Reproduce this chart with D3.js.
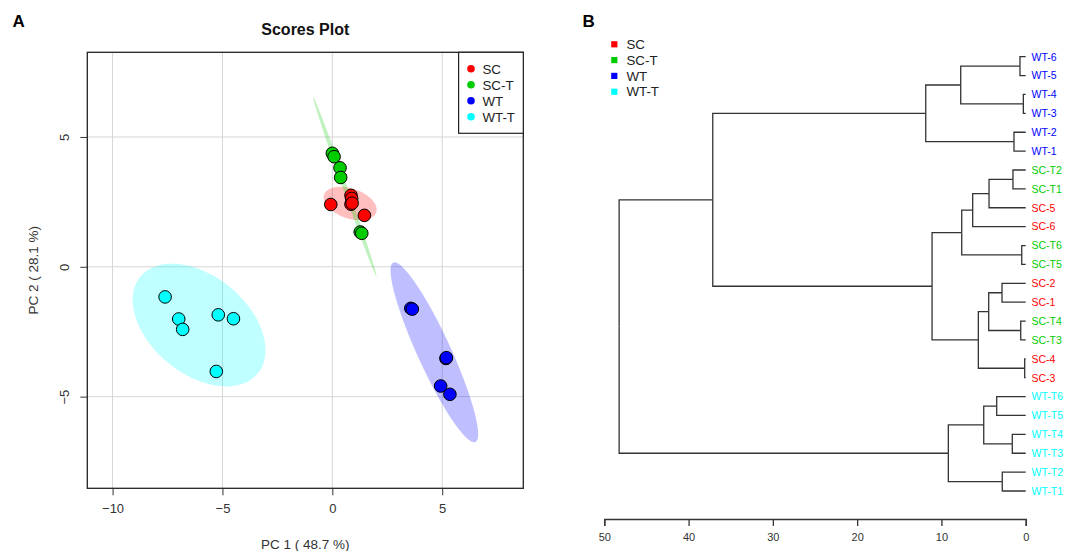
<!DOCTYPE html>
<html>
<head>
<meta charset="utf-8">
<script src="https://cdn.jsdelivr.net/npm/d3@7"></script>
<style>
  body { margin: 0; background: #fff; }
  svg { font-family: "Liberation Sans", Arial, sans-serif; }
</style>
</head>
<body>
<svg id="board"></svg>
<script>
// ---- data ----
let groups = ['SC', 'SC-T', 'WT', 'WT-T']
let groupColors = ['#ff0000', '#00cd00', '#0000ff', '#00ffff']

let sampleGroup = ['SC', 'SC', 'SC', 'SC', 'SC', 'SC',
                   'SC-T', 'SC-T', 'SC-T', 'SC-T', 'SC-T', 'SC-T',
                   'WT', 'WT', 'WT', 'WT', 'WT', 'WT',
                   'WT-T', 'WT-T', 'WT-T', 'WT-T', 'WT-T', 'WT-T']
let pc1 = [-0.07, 0.85, 0.88, 0.85, 1.46, 0.90,
           0.00, 0.08, 0.35, 0.38, 1.27, 1.34,
           3.57, 3.64, 5.17, 4.93, 5.35, 5.19,
           -7.61, -6.99, -6.81, -5.19, -4.50, -5.28]
let pc2 = [2.40, 2.75, 2.63, 2.41, 1.98, 2.45,
           4.37, 4.24, 3.81, 3.44, 1.34, 1.29,
           -1.60, -1.63, -3.53, -4.59, -4.91, -3.50,
           -1.16, -2.01, -2.41, -1.85, -2.00, -4.03]

let xTicks = [-10, -5, 0, 5]
let yTicks = [-5, 0, 5]
let xLabel = 'PC 1 ( 48.7 %)'
let yLabel = 'PC 2 ( 28.1 %)'

// dendrogram: leaf order top to bottom, and merges [id, left, right, height]
let leafOrder = ['WT-6', 'WT-5', 'WT-4', 'WT-3', 'WT-2', 'WT-1',
                 'SC-T2', 'SC-T1', 'SC-5', 'SC-6', 'SC-T6', 'SC-T5',
                 'SC-2', 'SC-1', 'SC-T4', 'SC-T3', 'SC-4', 'SC-3',
                 'WT-T6', 'WT-T5', 'WT-T4', 'WT-T3', 'WT-T2', 'WT-T1']
let leafGroup = ['WT', 'WT', 'WT', 'WT', 'WT', 'WT',
                 'SC-T', 'SC-T', 'SC', 'SC', 'SC-T', 'SC-T',
                 'SC', 'SC', 'SC-T', 'SC-T', 'SC', 'SC',
                 'WT-T', 'WT-T', 'WT-T', 'WT-T', 'WT-T', 'WT-T']
let merges = [
  ['m1', 'WT-6', 'WT-5', 0.68],
  ['m2', 'WT-4', 'WT-3', 0.28],
  ['m3', 'm1', 'm2', 7.71],
  ['m4', 'WT-2', 'WT-1', 1.39],
  ['m5', 'm3', 'm4', 11.86],
  ['m6', 'SC-T2', 'SC-T1', 1.51],
  ['m7', 'm6', 'SC-5', 4.35],
  ['m8', 'm7', 'SC-6', 6.29],
  ['m9', 'SC-T6', 'SC-T5', 0.47],
  ['m10', 'm8', 'm9', 7.59],
  ['m11', 'SC-2', 'SC-1', 2.81],
  ['m12', 'SC-T4', 'SC-T3', 0.59],
  ['m13', 'm11', 'm12', 4.39],
  ['m14', 'SC-4', 'SC-3', 0.12],
  ['m15', 'm13', 'm14', 5.62],
  ['m16', 'm10', 'm15', 11.11],
  ['m17', 'm5', 'm16', 37.13],
  ['m18', 'WT-T6', 'WT-T5', 3.44],
  ['m19', 'WT-T4', 'WT-T3', 1.59],
  ['m20', 'm18', 'm19', 4.98],
  ['m21', 'WT-T2', 'WT-T1', 2.78],
  ['m22', 'm20', 'm21', 9.18],
  ['m23', 'm17', 'm22', 48.24]
]
let heightTicks = [50, 40, 30, 20, 10, 0]

// ---- layout ----
let width = 1065
let height = 551

let board = d3.select('#board')
              .attr('width', width)
              .attr('height', height)

let colorOf = d3.scaleOrdinal().domain(groups).range(groupColors)

let xScale
let yScale
let hScale
let leafScale

let makeScales = function() {
    xScale = d3.scaleLinear()
               .domain([-11.15, 8.69])
               .range([87.3, 523.3])
    yScale = d3.scaleLinear()
               .domain([-8.53, 8.26])
               .range([488.3, 52.3])
    hScale = d3.scaleLinear()
               .domain([50, 0])
               .range([604.3, 1025.7])
    leafScale = d3.scalePoint()
               .domain(leafOrder)
               .range([56.7, 491])
}

// 95% normal ellipse from the points of one group
let ellipseOf = function(g) {
    let idx = d3.range(pc1.length).filter(i => sampleGroup[i] === g)
    let xs = idx.map(i => pc1[i])
    let ys = idx.map(i => pc2[i])
    let n = xs.length
    let mx = d3.mean(xs), my = d3.mean(ys)
    let sxx = d3.sum(xs, x => (x - mx) * (x - mx)) / (n - 1)
    let syy = d3.sum(ys, y => (y - my) * (y - my)) / (n - 1)
    let sxy = d3.sum(idx, (i, k) => (xs[k] - mx) * (ys[k] - my)) / (n - 1)
    let t = Math.sqrt(5.991)
    let a = Math.sqrt(sxx)
    let b = sxy / a
    let c = Math.sqrt(Math.max(syy - b * b, 0))
    return d3.range(0, 100).map(k => {
        let th = k / 100 * 2 * Math.PI
        let u = Math.cos(th), v = Math.sin(th)
        return [mx + t * a * u, my + t * (b * u + c * v)]
    })
}

let makeScores = function() {
    let g = board.append('g').attr('id', 'scores')

    // grid
    g.selectAll('.vgrid').data(xTicks).enter().append('line')
        .attr('x1', d => xScale(d)).attr('x2', d => xScale(d))
        .attr('y1', 52.3).attr('y2', 488.3)
        .attr('stroke', '#d6d6d6').attr('stroke-width', 1)
    g.selectAll('.hgrid').data(yTicks).enter().append('line')
        .attr('y1', d => yScale(d)).attr('y2', d => yScale(d))
        .attr('x1', 87.3).attr('x2', 523.3)
        .attr('stroke', '#d6d6d6').attr('stroke-width', 1)

    // ellipses
    let line = d3.line()
                 .x(d => xScale(d[0]))
                 .y(d => yScale(d[1]))
                 .curve(d3.curveLinearClosed)
    g.selectAll('.ell').data(groups).enter().append('path')
        .attr('d', d => line(ellipseOf(d)))
        .attr('fill', d => colorOf(d))
        .attr('fill-opacity', 0.25)
        .attr('stroke', 'none')

    // points
    g.selectAll('circle.pt').data(d3.range(pc1.length)).enter().append('circle')
        .attr('class', 'pt')
        .attr('cx', i => xScale(pc1[i]))
        .attr('cy', i => yScale(pc2[i]))
        .attr('r', 6.3)
        .attr('fill', i => colorOf(sampleGroup[i]))
        .attr('stroke', '#000')
        .attr('stroke-width', 1)

    // box
    g.append('rect')
        .attr('x', 87.3).attr('y', 52.3)
        .attr('width', 436).attr('height', 436)
        .attr('fill', 'none').attr('stroke', '#222').attr('stroke-width', 1.3)

    // axes
    let xAxis = d3.axisBottom(xScale).tickValues(xTicks).tickSize(7).tickPadding(8)
                  .tickFormat(d3.format('d'))
    let xg = g.append('g').attr('transform', 'translate(0,488.3)').call(xAxis)
    xg.select('.domain').remove()
    xg.selectAll('text').attr('font-size', 13).attr('fill', '#333')
      .attr('font-family', '"Liberation Sans", Arial, sans-serif')
    xg.selectAll('line').attr('stroke', '#333')

    let yAxis = d3.axisLeft(yScale).tickValues(yTicks).tickSize(7).tickFormat(d3.format('d'))
    let yg = g.append('g').attr('transform', 'translate(87.3,0)').call(yAxis)
    yg.select('.domain').remove()
    yg.selectAll('line').attr('stroke', '#333')
    yg.selectAll('text')
      .attr('font-size', 13).attr('fill', '#333')
      .attr('font-family', '"Liberation Sans", Arial, sans-serif')
      .attr('x', 0).attr('dy', 0)
      .attr('text-anchor', 'middle')
      .attr('transform', 'translate(-18,0) rotate(-90)')

    g.append('text').text(xLabel)
        .attr('x', 305.3).attr('y', 548.5)
        .attr('text-anchor', 'middle').attr('font-size', 13.5).attr('fill', '#333')
    g.append('text').text(yLabel)
        .attr('transform', 'translate(38.3,270.3) rotate(-90)')
        .attr('text-anchor', 'middle').attr('font-size', 13.5).attr('fill', '#333')

    g.append('text').text('Scores Plot')
        .attr('x', 305.3).attr('y', 35)
        .attr('text-anchor', 'middle').attr('font-size', 16).attr('font-weight', 'bold')
        .attr('fill', '#111')

    // legend
    let lg = g.append('g')
    lg.append('rect')
        .attr('x', 458.6).attr('y', 52.3).attr('width', 64.7).attr('height', 81)
        .attr('fill', '#fff').attr('stroke', '#222').attr('stroke-width', 1.2)
    lg.selectAll('circle').data(groups).enter().append('circle')
        .attr('cx', 471).attr('cy', (d, i) => 68.7 + i * 16)
        .attr('r', 3.8).attr('fill', d => colorOf(d))
    lg.selectAll('text').data(groups).enter().append('text')
        .text(d => d)
        .attr('x', 482.5).attr('y', (d, i) => 73.5 + i * 16)
        .attr('font-size', 13.3).attr('fill', '#222')

    board.append('text').text('A')
        .attr('x', 12.5).attr('y', 26.7)
        .attr('font-size', 17).attr('font-weight', 'bold').attr('fill', '#000')
}

let makeTree = function() {
    let byId = {}
    leafOrder.forEach(l => { byId[l] = { name: l } })
    merges.forEach(m => {
        byId[m[0]] = { name: m[0], h: m[3], children: [byId[m[1]], byId[m[2]]] }
    })
    let root = d3.hierarchy(byId['m23'])
    root.eachAfter(node => {
        if (!node.children) {
            node.py = leafScale(node.data.name)
            node.px = hScale(0)
        } else {
            node.py = (node.children[0].py + node.children[1].py) / 2
            node.px = hScale(node.data.h)
        }
    })

    let g = board.append('g').attr('id', 'tree')
    let links = root.links()
    g.selectAll('path.link').data(links).enter().append('path')
        .attr('class', 'link')
        .attr('d', d => 'M' + d.source.px + ',' + d.source.py +
                        'V' + d.target.py + 'H' + d.target.px)
        .attr('fill', 'none')
        .attr('stroke', '#333')
        .attr('stroke-width', 1.3)

    g.selectAll('text.leaf').data(root.leaves()).enter().append('text')
        .attr('class', 'leaf')
        .text(d => d.data.name)
        .attr('x', 1031.5)
        .attr('y', d => d.py + 3.8)
        .attr('font-size', 10.5)
        .attr('fill', d => colorOf(leafGroup[leafOrder.indexOf(d.data.name)]))

    let axis = d3.axisBottom(hScale).tickValues(heightTicks).tickSize(7).tickPadding(7)
    let ag = g.append('g').attr('transform', 'translate(0,519)').call(axis)
    ag.select('.domain').attr('stroke', '#333').attr('stroke-width', 1.3)
    ag.selectAll('line').attr('stroke', '#333').attr('stroke-width', 1.3)
    ag.selectAll('text').attr('font-size', 11).attr('fill', '#333')
      .attr('font-family', '"Liberation Sans", Arial, sans-serif')

    // legend
    g.selectAll('rect.key').data(groups).enter().append('rect')
        .attr('class', 'key')
        .attr('x', 611.2).attr('y', (d, i) => 41.2 + i * 15.8)
        .attr('width', 6.2).attr('height', 6.2)
        .attr('fill', d => colorOf(d))
    g.selectAll('text.key').data(groups).enter().append('text')
        .attr('class', 'key')
        .text(d => d)
        .attr('x', 626.5).attr('y', (d, i) => 49 + i * 15.8)
        .attr('font-size', 13.3).attr('fill', '#222')

    board.append('text').text('B')
        .attr('x', 582.5).attr('y', 26.7)
        .attr('font-size', 17).attr('font-weight', 'bold').attr('fill', '#000')
}

makeScales()
makeScores()
makeTree()
</script>
</body>
</html>
